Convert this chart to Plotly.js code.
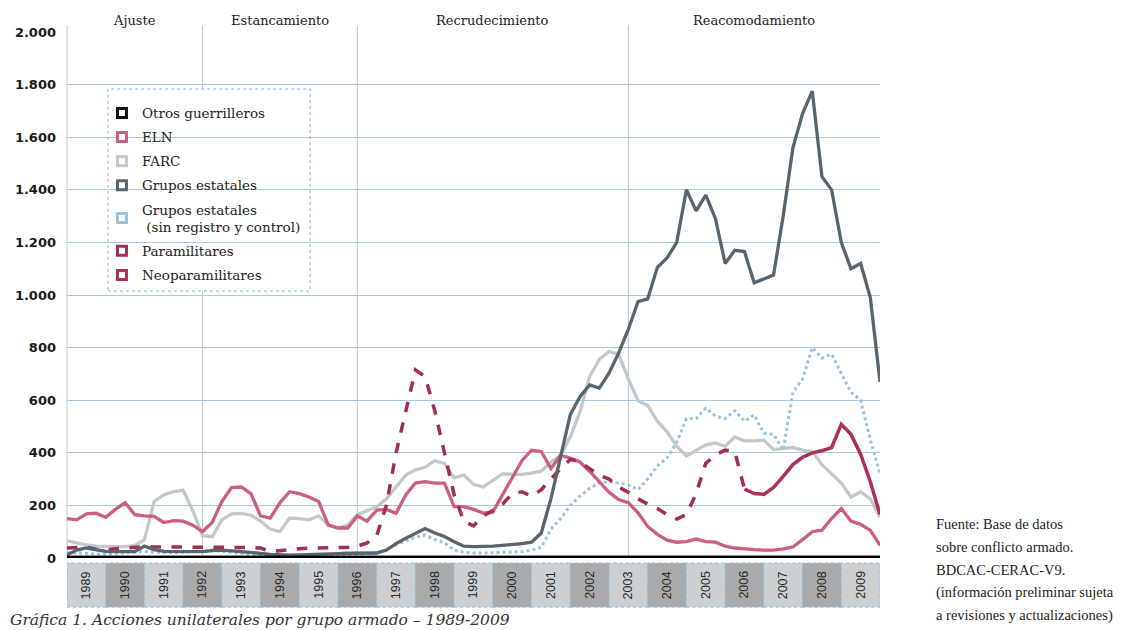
<!DOCTYPE html>
<html>
<head>
<meta charset="utf-8">
<script src="https://cdn.plot.ly/plotly-3.0.1.min.js"></script>
<style>
html,body{margin:0;padding:0;background:#fff;}
#chart{width:1140px;height:630px;}
</style>
</head>
<body>
<div id="chart"></div>
<script>
// Quarterly readings, 1989 Q1 .. 2010 start (85 points)
const startYear = 1989;
const years = [1989,1990,1991,1992,1993,1994,1995,1996,1997,1998,1999,2000,2001,2002,2003,2004,2005,2006,2007,2008,2009];
const periodNames = ["Ajuste","Estancamiento","Recrudecimiento","Reacomodamiento"];
const periodBreaks = [1992.5,1996.5,2003.5];
const yTickVals = [0,200,400,600,800,1000,1200,1400,1600,1800,2000];
const yTickText = ["0","200","400","600","800","1.000","1.200","1.400","1.600","1.800","2.000"];
const sourceLines = ["Fuente: Base de datos","sobre conflicto armado.","BDCAC-CERAC-V9.","(información preliminar sujeta","a revisiones y actualizaciones)"];
const caption = "Gráfica 1. Acciones unilaterales por grupo armado – 1989-2009";

const otros = [5,5,6,6,5,5,6,6,6,5,5,5,6,6,6,6,5,5,5,6,6,6,6,5,5,5,5,5,5,5,5,5,6,6,6,5,5,5,5,5,5,5,5,5,5,5,5,5,5,5,5,5,5,5,5,5,5,5,5,5,5,5,5,5,5,5,5,5,5,5,5,5,5,5,5,5,5,5,5,5,5,5,5,5,5];
const eln = [150,145,168,170,155,185,210,165,160,158,135,142,140,125,100,135,215,268,270,245,160,152,210,252,245,232,215,125,114,114,160,140,182,185,170,240,285,290,285,285,195,195,185,171,175,240,300,370,410,405,340,390,380,365,330,290,250,222,210,172,120,90,68,60,62,72,62,60,45,38,34,32,30,30,35,42,70,100,106,150,188,140,128,105,48];
const farc = [65,57,50,45,43,43,43,47,70,215,240,252,258,180,85,81,145,168,170,163,140,110,100,152,150,145,160,125,115,125,165,180,195,225,270,315,335,345,370,360,305,315,280,270,295,320,318,318,323,330,365,390,460,555,690,755,785,775,680,598,580,520,480,425,388,410,430,437,425,460,445,445,448,412,415,420,410,405,355,320,285,232,252,225,155];
const estatales = [12,30,38,30,25,24,24,24,45,32,25,24,24,24,24,28,30,27,25,22,18,14,12,11,12,14,15,16,17,18,18,18,19,30,55,75,95,112,95,82,62,45,43,43,45,48,50,55,60,95,225,380,545,613,658,646,703,780,870,975,985,1105,1141,1200,1400,1320,1380,1290,1120,1170,1165,1046,1060,1076,1300,1560,1690,1775,1450,1400,1200,1100,1120,990,670];
const estatalesSR = [20,20,18,15,15,18,20,22,25,22,20,20,22,25,25,30,25,22,18,12,10,8,8,8,10,10,10,10,12,12,12,15,20,30,50,65,80,87,70,58,30,22,19,19,20,20,22,24,30,40,110,150,200,235,265,285,290,285,278,260,300,350,380,440,530,530,570,540,530,560,520,544,475,470,410,630,680,800,760,775,700,630,600,450,320];
const paramilitares = [38,40,42,33,30,35,38,42,43,42,42,42,42,42,42,42,42,42,42,40,38,25,28,30,35,38,38,38,38,40,45,57,85,200,400,565,715,690,560,400,240,140,122,160,180,205,245,252,235,260,300,340,375,365,340,315,300,270,250,225,205,188,165,148,165,245,360,392,410,404,262,null,null,null,null,null,null,null,null,null,null,null,null,null,null];
const neoparamilitares = [null,null,null,null,null,null,null,null,null,null,null,null,null,null,null,null,null,null,null,null,null,null,null,null,null,null,null,null,null,null,null,null,null,null,null,null,null,null,null,null,null,null,null,null,null,null,null,null,null,null,null,null,null,null,null,null,null,null,null,null,null,null,null,null,null,null,null,null,null,null,262,245,242,268,310,355,383,400,408,420,508,470,395,290,165];

const xq = eln.map((_, i) => startYear + i / 4);

const C = {
  otros: "#111111",
  eln: "#cc5f7e",
  farc: "#c3c8cc",
  estatales: "#58656c",
  estatalesSR: "#9cc4dc",
  para: "#a32e52",
  neo: "#ab3155"
};

const series = [
  {name:"FARC", y:farc, color:C.farc, dash:"solid", w:3.3},
  {name:"Grupos estatales<br> (sin registro y control)", y:estatalesSR, color:C.estatalesSR, dash:"dot", w:3},
  {name:"ELN", y:eln, color:C.eln, dash:"solid", w:3.3},
  {name:"Paramilitares", y:paramilitares, color:C.para, dash:"dash", w:3.5},
  {name:"Neoparamilitares", y:neoparamilitares, color:C.neo, dash:"solid", w:3.5},
  {name:"Grupos estatales", y:estatales, color:C.estatales, dash:"solid", w:3.3},
  {name:"Otros guerrilleros", y:otros, color:C.otros, dash:"solid", w:2}
];

const traces = series.map(s => ({
  x: xq, y: s.y, type: "scatter", mode: "lines", name: s.name,
  line: {color: s.color, width: s.w, dash: s.dash}, showlegend: false,
  connectgaps: false, hoverinfo: "skip"
}));

const legendOrder = [
  {name:"Otros guerrilleros", color:C.otros},
  {name:"ELN", color:C.eln},
  {name:"FARC", color:C.farc},
  {name:"Grupos estatales", color:C.estatales},
  {name:"Grupos estatales<br> (sin registro y control)", color:C.estatalesSR},
  {name:"Paramilitares", color:C.para},
  {name:"Neoparamilitares", color:C.neo}
];
legendOrder.forEach((l, i) => {
  traces.push({
    x:[null], y:[null], type:"scatter", mode:"markers", name:l.name,
    legendgroup:"g"+i, legendrank: i+1,
    marker:{symbol:"square", size:9, color:"#ffffff", line:{color:l.color, width:3}}
  });
});

const shapes = [];
// year boxes below axis
years.forEach((yr, i) => {
  shapes.push({type:"rect", xref:"x", yref:"paper", x0:yr, x1:yr+1, y0:-0.0935, y1:-0.0095,
    fillcolor: i % 2 === 0 ? "#cdd0d2" : "#a9aaac", line:{color:"#8fbfdc", width:1, dash:"dot"}, layer:"below"});
});
// period separators
periodBreaks.forEach(b => {
  shapes.push({type:"line", xref:"x", yref:"paper", x0:b, x1:b, y0:0, y1:1.013,
    line:{color:"#b3c8d6", width:1}, layer:"below"});
});
// left axis line
shapes.push({type:"line", xref:"paper", yref:"paper", x0:0, x1:0, y0:0, y1:1.013,
  line:{color:"#b3c8d6", width:1}, layer:"below"});
// baseline
shapes.push({type:"line", xref:"paper", yref:"y", x0:0, x1:1, y0:0, y1:0,
  line:{color:"#000000", width:4.5}});
// legend dotted border
shapes.push({type:"rect", xref:"paper", yref:"paper", x0:0.0504, x1:0.299, y0:0.5076, y1:0.8916,
  line:{color:"#7fb6d8", width:1, dash:"dot"}, fillcolor:"rgba(255,255,255,0.95)", layer:"below"});

const annotations = [];
years.forEach(yr => {
  annotations.push({xref:"x", yref:"paper", x:yr+0.5, y:-0.0515, yanchor:"middle", xanchor:"center",
    text:String(yr), showarrow:false,
    textangle:-90, font:{family:"Liberation Sans, Arial, sans-serif", size:12.5, color:"#2a2a2a"}});
});
const periodCenters = [(startYear+periodBreaks[0])/2, (periodBreaks[0]+periodBreaks[1])/2, (periodBreaks[1]+periodBreaks[2])/2, (periodBreaks[2]+2010)/2];
periodNames.forEach((p, i) => {
  annotations.push({xref:"x", yref:"paper", x:periodCenters[i], y:1.021, yanchor:"middle", text:p, showarrow:false,
    font:{family:"DejaVu Serif, serif", size:13, color:"#222"}});
});
annotations.push({xref:"paper", yref:"paper", x:-0.073, xanchor:"left", y:-0.117, yanchor:"middle",
  text:"<i>" + caption + "</i>", showarrow:false,
  font:{family:"DejaVu Serif, serif", size:15.5, color:"#333"}});
sourceLines.forEach((t, i) => {
  annotations.push({xref:"paper", yref:"paper", x:1.066, xanchor:"left", y:(558 - (524 + i*22.8))/526, yanchor:"middle",
    align:"left", text:t, showarrow:false,
    font:{family:"Liberation Serif, Times New Roman, serif", size:14.5, color:"#222"}});
});

const layout = {
  width:1140, height:630,
  margin:{l:67, r:260, t:32, b:72},
  paper_bgcolor:"#ffffff", plot_bgcolor:"#ffffff",
  showlegend:true,
  legend:{x:0.043, y:0.875, xanchor:"left", yanchor:"top", bgcolor:"rgba(0,0,0,0)", borderwidth:0,
    font:{family:"DejaVu Serif, serif", size:13.5, color:"#222"}, tracegroupgap:3.5, itemwidth:30,
    traceorder:"grouped"},
  xaxis:{range:[1989,2010], showgrid:false, zeroline:false, showticklabels:false, ticks:"", showline:false, fixedrange:true},
  yaxis:{range:[0,2000], tickvals:yTickVals, ticktext:yTickText, showgrid:true, gridcolor:"#a9cbe0", gridwidth:1,
    zeroline:false, showline:false, ticks:"", ticklabelstandoff:10,
    tickfont:{family:"DejaVu Sans, sans-serif", size:13, color:"#1a1a1a", weight:"bold"}},
  shapes:shapes, annotations:annotations
};

Plotly.newPlot("chart", traces, layout, {displayModeBar:false, staticPlot:true});
</script>
</body>
</html>
